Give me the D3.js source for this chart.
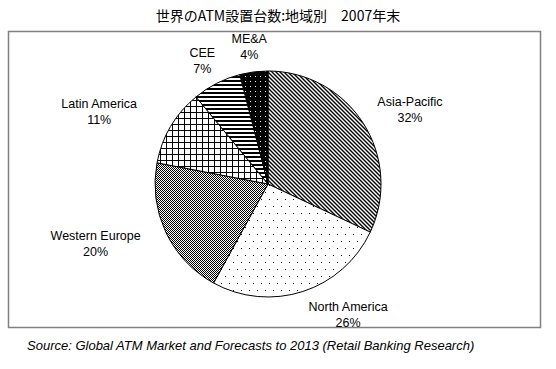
<!DOCTYPE html>
<html>
<head>
<meta charset="utf-8">
<script src="https://cdn.jsdelivr.net/npm/d3@7"></script>
<style>
body { margin: 0; background: #fff; }
text { font-family: "Liberation Sans", Arial, sans-serif; fill: #000; }
pattern rect { shape-rendering: crispEdges; }
</style>
</head>
<body>
<script>
var regions = ["Asia-Pacific", "North America", "Western Europe", "Latin America", "CEE", "ME&A"];
var shares = [32, 26, 20, 11, 7, 4];
var patternIds = ["pAsia", "pNA", "pWE", "pLA", "pCEE", "pMEA"];
var title = "世界のATM設置台数:地域別　2007年末";
var source = "Source: Global ATM Market and Forecasts to 2013 (Retail Banking Research)";

var width = 556, height = 369;
var cx = 268, cy = 184, radius = 113;

// hand tuned label shifts (Excel moved a few labels)
var nudge = {"North America": [26, 0], "Western Europe": [-9, 1], "Latin America": [-20, -2]};

var svg = d3.select("body").append("svg")
    .attr("width", width)
    .attr("height", height);

var defs = svg.append("defs");

function pattern(id, w, h) {
    var p = defs.append("pattern")
        .attr("id", id)
        .attr("patternUnits", "userSpaceOnUse")
        .attr("width", w)
        .attr("height", h);
    return p;
}

// Asia-Pacific: dense back-diagonal lines
var p = pattern("pAsia", 4, 4);
p.append("rect").attr("width", 4).attr("height", 4).attr("fill", "#fff");
p.append("path").attr("d", "M0,0L4,4M-1,3L1,5M3,-1L5,1")
    .attr("stroke", "#000").attr("stroke-width", 1.4);

// North America: sparse dots
p = pattern("pNA", 8, 14);
p.append("rect").attr("width", 8).attr("height", 14).attr("fill", "#fff");
p.append("rect").attr("x", 1).attr("y", 1).attr("width", 1).attr("height", 1).attr("fill", "#000");
p.append("rect").attr("x", 5).attr("y", 8).attr("width", 1).attr("height", 1).attr("fill", "#000");

// Western Europe: checker
p = pattern("pWE", 2, 2);
p.append("rect").attr("width", 2).attr("height", 2).attr("fill", "#fff");
p.append("rect").attr("width", 1).attr("height", 1).attr("fill", "#000");
p.append("rect").attr("x", 1).attr("y", 1).attr("width", 1).attr("height", 1).attr("fill", "#000");

// Latin America: grid
p = pattern("pLA", 6, 6);
p.append("rect").attr("width", 6).attr("height", 6).attr("fill", "#fff");
p.append("rect").attr("width", 6).attr("height", 1).attr("fill", "#000");
p.append("rect").attr("width", 1).attr("height", 6).attr("fill", "#000");

// CEE: horizontal lines
p = pattern("pCEE", 4, 4);
p.append("rect").attr("width", 4).attr("height", 4).attr("fill", "#fff");
p.append("rect").attr("width", 4).attr("height", 2).attr("fill", "#000");

// ME&A: black with white dots
p = pattern("pMEA", 5, 5);
p.append("rect").attr("width", 5).attr("height", 5).attr("fill", "#000");
p.append("rect").attr("x", 2).attr("y", 2).attr("width", 1).attr("height", 1).attr("fill", "#fff");

svg.append("text")
    .attr("x", 278)
    .attr("y", 21)
    .attr("text-anchor", "middle")
    .style("font-family", "'Noto Sans CJK JP', sans-serif")
    .style("font-size", "14px")
    .text(title);

svg.append("rect")
    .attr("x", 8.5)
    .attr("y", 31.5)
    .attr("width", 532)
    .attr("height", 296)
    .attr("fill", "#fff")
    .attr("stroke", "#808080")
    .attr("stroke-width", 1.5);

var data = regions.map(function(r, i) {
    return {region: r, share: shares[i], pat: patternIds[i]};
});

var pie = d3.pie().sort(null).value(function(d) { return d.share; });
var arc = d3.arc().innerRadius(0).outerRadius(radius);
var arcs = pie(data);

var g = svg.append("g").attr("transform", "translate(" + cx + "," + cy + ")");

g.selectAll("path.slice")
    .data(arcs)
    .enter().append("path")
    .attr("class", "slice")
    .attr("d", arc)
    .attr("fill", function(d) { return "url(#" + d.data.pat + ")"; })
    .attr("stroke", "#000")
    .attr("stroke-width", 1);

var gap = 10;
var labels = g.selectAll("text.lbl")
    .data(arcs)
    .enter().append("text")
    .attr("class", "lbl")
    .attr("text-anchor", "middle")
    .style("font-size", "12.5px");

labels.each(function(d) {
    var t = d3.select(this);
    t.append("tspan").attr("class", "l1").text(d.data.region);
    t.append("tspan").attr("class", "l2").text(d.data.share + "%");
    var w = this.getBBox().width;
    var a = (d.startAngle + d.endAngle) / 2;
    var px = Math.sin(a) * (radius + gap), py = -Math.cos(a) * (radius + gap);
    var n = nudge[d.data.region] || [0, 0];
    var x = px + Math.sin(a) * w / 2 + n[0];
    var y = py - Math.cos(a) * 15 + n[1];
    t.select(".l1").attr("x", x).attr("y", y - 4);
    t.select(".l2").attr("x", x).attr("y", y + 12);
});

svg.append("text")
    .attr("x", 27)
    .attr("y", 350)
    .style("font-size", "13px")
    .style("font-style", "italic")
    .text(source);
</script>
</body>
</html>
